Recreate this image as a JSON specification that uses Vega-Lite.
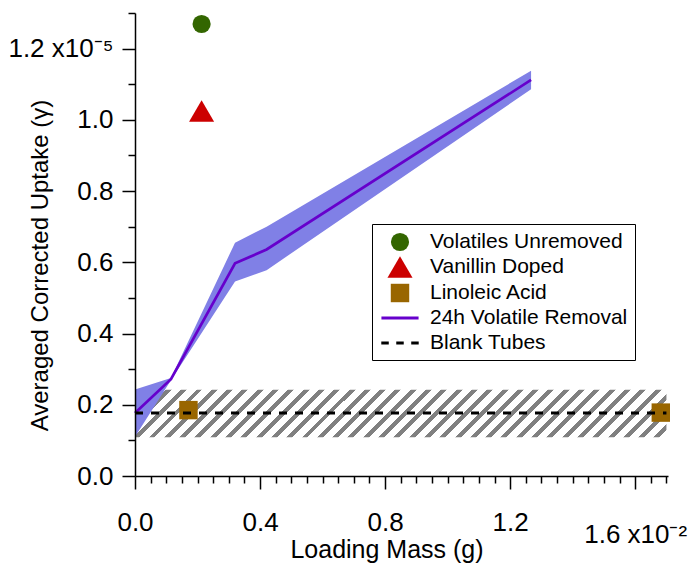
{
  "$schema": "https://vega.github.io/schema/vega-lite/v6.json",
  "width": 533,
  "height": 463,
  "autosize": {"type": "none"},
  "padding": {"left": 135, "top": 13, "right": 20, "bottom": 87},
  "config": {
    "view": {"stroke": null},
    "font": "Liberation Sans",
    "axis": {
      "grid": false,
      "domainColor": "#000",
      "tickColor": "#000",
      "labelColor": "#000",
      "titleColor": "#000",
      "domainWidth": 1.5,
      "tickWidth": 1.5,
      "labelFontSize": 26,
      "titleFontSize": 24,
      "titleFontWeight": "normal",
      "labelFont": "Liberation Sans",
      "titleFont": "Liberation Sans",
      "labelFlush": false,
      "labelOverlap": false,
      "labelBound": false
    },
    "legend": {
      "title": null, "orient": "none", "legendX": 237, "legendY": 211,
      "fillColor": "#ffffff", "strokeColor": "#000000",
      "padding": 7, "symbolOffset": 10, "labelOffset": 19, "rowPadding": 4,
      "symbolStrokeWidth": 3,
      "labelFontSize": 21, "labelColor": "#000", "labelFont": "Liberation Sans", "labelLimit": 400
    }
  },
  "datasets": {
    "blank": [{"x0": 0, "x1": 1.70, "lo": 0.109, "hi": 0.242, "y": 0.177}],
    "vol": [
      {"x": 0, "y": 0.177, "lo": 0.110, "hi": 0.243},
      {"x": 0.115, "y": 0.272, "lo": 0.269, "hi": 0.275},
      {"x": 0.32, "y": 0.597, "lo": 0.546, "hi": 0.655},
      {"x": 0.421, "y": 0.636, "lo": 0.578, "hi": 0.700},
      {"x": 1.267, "y": 1.112, "lo": 1.086, "hi": 1.138}
    ],
    "pts": [
      {"x": 0.213, "y": 1.269, "series": "Volatiles Unremoved"},
      {"x": 0.213, "y": 1.025, "series": "Vanillin Doped"},
      {"x": 0.171, "y": 0.185, "series": "Linoleic Acid"},
      {"x": 1.682, "y": 0.178, "series": "Linoleic Acid"}
    ]
  },
  "layer": [
    {
      "data": {"name": "blank"},
      "mark": {
        "type": "rect",
        "fill": {
          "gradient": "linear", "x1": 0, "y1": 0, "x2": 1.1, "y2": 0.0981,
          "stops": [
            {"offset": 0, "color": "#808080"}, {"offset": 0.0101, "color": "#808080"}, {"offset": 0.0101, "color": "#fff"}, {"offset": 0.026, "color": "#fff"},
            {"offset": 0.026, "color": "#808080"}, {"offset": 0.0361, "color": "#808080"}, {"offset": 0.0361, "color": "#fff"}, {"offset": 0.0519, "color": "#fff"},
            {"offset": 0.0519, "color": "#808080"}, {"offset": 0.062, "color": "#808080"}, {"offset": 0.062, "color": "#fff"}, {"offset": 0.0779, "color": "#fff"},
            {"offset": 0.0779, "color": "#808080"}, {"offset": 0.088, "color": "#808080"}, {"offset": 0.088, "color": "#fff"}, {"offset": 0.1039, "color": "#fff"},
            {"offset": 0.1039, "color": "#808080"}, {"offset": 0.114, "color": "#808080"}, {"offset": 0.114, "color": "#fff"}, {"offset": 0.1299, "color": "#fff"},
            {"offset": 0.1299, "color": "#808080"}, {"offset": 0.14, "color": "#808080"}, {"offset": 0.14, "color": "#fff"}, {"offset": 0.1558, "color": "#fff"},
            {"offset": 0.1558, "color": "#808080"}, {"offset": 0.1659, "color": "#808080"}, {"offset": 0.1659, "color": "#fff"}, {"offset": 0.1818, "color": "#fff"},
            {"offset": 0.1818, "color": "#808080"}, {"offset": 0.1919, "color": "#808080"}, {"offset": 0.1919, "color": "#fff"}, {"offset": 0.2078, "color": "#fff"},
            {"offset": 0.2078, "color": "#808080"}, {"offset": 0.2179, "color": "#808080"}, {"offset": 0.2179, "color": "#fff"}, {"offset": 0.2337, "color": "#fff"},
            {"offset": 0.2337, "color": "#808080"}, {"offset": 0.2438, "color": "#808080"}, {"offset": 0.2438, "color": "#fff"}, {"offset": 0.2597, "color": "#fff"},
            {"offset": 0.2597, "color": "#808080"}, {"offset": 0.2698, "color": "#808080"}, {"offset": 0.2698, "color": "#fff"}, {"offset": 0.2857, "color": "#fff"},
            {"offset": 0.2857, "color": "#808080"}, {"offset": 0.2958, "color": "#808080"}, {"offset": 0.2958, "color": "#fff"}, {"offset": 0.3116, "color": "#fff"},
            {"offset": 0.3116, "color": "#808080"}, {"offset": 0.3217, "color": "#808080"}, {"offset": 0.3217, "color": "#fff"}, {"offset": 0.3376, "color": "#fff"},
            {"offset": 0.3376, "color": "#808080"}, {"offset": 0.3477, "color": "#808080"}, {"offset": 0.3477, "color": "#fff"}, {"offset": 0.3636, "color": "#fff"},
            {"offset": 0.3636, "color": "#808080"}, {"offset": 0.3737, "color": "#808080"}, {"offset": 0.3737, "color": "#fff"}, {"offset": 0.3896, "color": "#fff"},
            {"offset": 0.3896, "color": "#808080"}, {"offset": 0.3997, "color": "#808080"}, {"offset": 0.3997, "color": "#fff"}, {"offset": 0.4155, "color": "#fff"},
            {"offset": 0.4155, "color": "#808080"}, {"offset": 0.4256, "color": "#808080"}, {"offset": 0.4256, "color": "#fff"}, {"offset": 0.4415, "color": "#fff"},
            {"offset": 0.4415, "color": "#808080"}, {"offset": 0.4516, "color": "#808080"}, {"offset": 0.4516, "color": "#fff"}, {"offset": 0.4675, "color": "#fff"},
            {"offset": 0.4675, "color": "#808080"}, {"offset": 0.4776, "color": "#808080"}, {"offset": 0.4776, "color": "#fff"}, {"offset": 0.4934, "color": "#fff"},
            {"offset": 0.4934, "color": "#808080"}, {"offset": 0.5035, "color": "#808080"}, {"offset": 0.5035, "color": "#fff"}, {"offset": 0.5194, "color": "#fff"},
            {"offset": 0.5194, "color": "#808080"}, {"offset": 0.5295, "color": "#808080"}, {"offset": 0.5295, "color": "#fff"}, {"offset": 0.5454, "color": "#fff"},
            {"offset": 0.5454, "color": "#808080"}, {"offset": 0.5555, "color": "#808080"}, {"offset": 0.5555, "color": "#fff"}, {"offset": 0.5713, "color": "#fff"},
            {"offset": 0.5713, "color": "#808080"}, {"offset": 0.5814, "color": "#808080"}, {"offset": 0.5814, "color": "#fff"}, {"offset": 0.5973, "color": "#fff"},
            {"offset": 0.5973, "color": "#808080"}, {"offset": 0.6074, "color": "#808080"}, {"offset": 0.6074, "color": "#fff"}, {"offset": 0.6233, "color": "#fff"},
            {"offset": 0.6233, "color": "#808080"}, {"offset": 0.6334, "color": "#808080"}, {"offset": 0.6334, "color": "#fff"}, {"offset": 0.6493, "color": "#fff"},
            {"offset": 0.6493, "color": "#808080"}, {"offset": 0.6594, "color": "#808080"}, {"offset": 0.6594, "color": "#fff"}, {"offset": 0.6752, "color": "#fff"},
            {"offset": 0.6752, "color": "#808080"}, {"offset": 0.6853, "color": "#808080"}, {"offset": 0.6853, "color": "#fff"}, {"offset": 0.7012, "color": "#fff"},
            {"offset": 0.7012, "color": "#808080"}, {"offset": 0.7113, "color": "#808080"}, {"offset": 0.7113, "color": "#fff"}, {"offset": 0.7272, "color": "#fff"},
            {"offset": 0.7272, "color": "#808080"}, {"offset": 0.7373, "color": "#808080"}, {"offset": 0.7373, "color": "#fff"}, {"offset": 0.7531, "color": "#fff"},
            {"offset": 0.7531, "color": "#808080"}, {"offset": 0.7632, "color": "#808080"}, {"offset": 0.7632, "color": "#fff"}, {"offset": 0.7791, "color": "#fff"},
            {"offset": 0.7791, "color": "#808080"}, {"offset": 0.7892, "color": "#808080"}, {"offset": 0.7892, "color": "#fff"}, {"offset": 0.8051, "color": "#fff"},
            {"offset": 0.8051, "color": "#808080"}, {"offset": 0.8152, "color": "#808080"}, {"offset": 0.8152, "color": "#fff"}, {"offset": 0.831, "color": "#fff"},
            {"offset": 0.831, "color": "#808080"}, {"offset": 0.8411, "color": "#808080"}, {"offset": 0.8411, "color": "#fff"}, {"offset": 0.857, "color": "#fff"},
            {"offset": 0.857, "color": "#808080"}, {"offset": 0.8671, "color": "#808080"}, {"offset": 0.8671, "color": "#fff"}, {"offset": 0.883, "color": "#fff"},
            {"offset": 0.883, "color": "#808080"}, {"offset": 0.8931, "color": "#808080"}, {"offset": 0.8931, "color": "#fff"}, {"offset": 0.909, "color": "#fff"},
            {"offset": 0.909, "color": "#808080"}, {"offset": 0.9191, "color": "#808080"}, {"offset": 0.9191, "color": "#fff"}, {"offset": 0.9349, "color": "#fff"},
            {"offset": 0.9349, "color": "#808080"}, {"offset": 0.945, "color": "#808080"}, {"offset": 0.945, "color": "#fff"}, {"offset": 0.9609, "color": "#fff"},
            {"offset": 0.9609, "color": "#808080"}, {"offset": 0.971, "color": "#808080"}, {"offset": 0.971, "color": "#fff"}, {"offset": 0.9869, "color": "#fff"},
            {"offset": 0.9869, "color": "#808080"}, {"offset": 0.997, "color": "#808080"}, {"offset": 0.997, "color": "#fff"}, {"offset": 1, "color": "#fff"}
          ]
        }
      },
      "encoding": {
        "x": {
          "field": "x0", "type": "quantitative",
          "scale": {"domain": [0, 1.705], "nice": false, "zero": false},
          "axis": {
            "orient": "bottom", "zindex": 1,
            "values": [0, 0.4, 0.8, 1.2, 1.6],
            "tickSize": 13,
            "labelExpr": "datum.value > 1.5 ? '1.6 x10⁻²' : format(datum.value, '.1f')",
            "labelPadding": {"condition": {"test": "datum.value > 1.5", "value": 32}, "value": 20},
            "title": "Loading Mass (g)",
            "titleFontSize": 25,
            "titleX": 251.5, "titleY": 81,
            "titleAlign": "center", "titleBaseline": "alphabetic", "titleAngle": 0
          }
        },
        "x2": {"field": "x1"},
        "y": {
          "field": "lo", "type": "quantitative",
          "scale": {"domain": [0, 1.3], "nice": false, "zero": false},
          "axis": {
            "orient": "left", "zindex": 1,
            "values": [0, 0.2, 0.4, 0.6, 0.8, 1.0, 1.2],
            "tickSize": 13,
            "labelPadding": 9,
            "labelExpr": "abs(datum.value - 1.2) < 0.01 ? '1.2 x10⁻⁵' : format(datum.value, '.1f')",
            "title": "Averaged Corrected Uptake (γ)",
            "titleX": -88, "titleY": 252,
            "titleAlign": "center", "titleBaseline": "alphabetic", "titleAngle": 270
          }
        },
        "y2": {"field": "hi"}
      }
    },
    {
      "data": {"name": "vol"},
      "mark": {"type": "area", "fill": "#8080e6", "stroke": null},
      "encoding": {
        "x": {"field": "x", "type": "quantitative", "scale": {"domain": [0, 1.705], "nice": false, "zero": false}, "axis": null},
        "y": {"field": "lo", "type": "quantitative", "scale": {"domain": [0, 1.3], "nice": false, "zero": false}, "axis": null},
        "y2": {"field": "hi"}
      }
    },
    {
      "data": {"name": "vol"},
      "mark": {"type": "line", "color": "#6600cc", "strokeWidth": 2.7},
      "encoding": {
        "x": {"field": "x", "type": "quantitative", "scale": {"domain": [0, 1.705], "nice": false, "zero": false}, "axis": null},
        "y": {"field": "y", "type": "quantitative", "scale": {"domain": [0, 1.3], "nice": false, "zero": false}, "axis": null}
      }
    },
    {
      "data": {"name": "pts"},
      "mark": {"type": "point", "filled": true, "opacity": 1},
      "encoding": {
        "x": {"field": "x", "type": "quantitative", "scale": {"domain": [0, 1.705], "nice": false, "zero": false}, "axis": null},
        "y": {"field": "y", "type": "quantitative", "scale": {"domain": [0, 1.3], "nice": false, "zero": false}, "axis": null},
        "fill": {
          "field": "series", "type": "nominal",
          "scale": {
            "domain": ["Volatiles Unremoved", "Vanillin Doped", "Linoleic Acid", "24h Volatile Removal", "Blank Tubes"],
            "range": ["#336600", "#cc0000", "#996600", null, null]
          }
        },
        "stroke": {
          "field": "series", "type": "nominal",
          "scale": {
            "domain": ["Volatiles Unremoved", "Vanillin Doped", "Linoleic Acid", "24h Volatile Removal", "Blank Tubes"],
            "range": [null, null, null, "#6600cc", "#000000"]
          }
        },
        "shape": {
          "field": "series", "type": "nominal",
          "scale": {
            "domain": ["Volatiles Unremoved", "Vanillin Doped", "Linoleic Acid", "24h Volatile Removal", "Blank Tubes"],
            "range": ["circle", "M0,-1.18L1.37,1.18L-1.37,1.18Z", "square", "M-2,0H2", "M-2,0H-1.2M-0.4,0H0.4M1.2,0H2"]
          }
        },
        "size": {
          "field": "series", "type": "nominal",
          "scale": {
            "domain": ["Volatiles Unremoved", "Vanillin Doped", "Linoleic Acid", "24h Volatile Removal", "Blank Tubes"],
            "range": [330, 350, 430, 100, 100]
          }
        }
      }
    },
    {
      "data": {"name": "blank"},
      "mark": {"type": "rule", "color": "#000", "strokeWidth": 3, "strokeDash": [8, 8], "strokeCap": "butt"},
      "encoding": {
        "x": {
          "field": "x0", "type": "quantitative",
          "scale": {"domain": [0, 1.705], "nice": false, "zero": false},
          "axis": {
            "orient": "bottom", "domain": false, "labels": false, "title": null, "tickSize": 7,
            "values": [0.05, 0.1, 0.15, 0.2, 0.25, 0.3, 0.35, 0.45, 0.5, 0.55, 0.6, 0.65, 0.7, 0.75, 0.85, 0.9, 0.95, 1.0, 1.05, 1.1, 1.15, 1.25, 1.3, 1.35, 1.4, 1.45, 1.5, 1.55, 1.65, 1.7]
          }
        },
        "x2": {"field": "x1"},
        "y": {
          "field": "y", "type": "quantitative",
          "scale": {"domain": [0, 1.3], "nice": false, "zero": false},
          "axis": {
            "orient": "left", "domain": false, "labels": false, "title": null, "tickSize": 7,
            "values": [0.1, 0.3, 0.5, 0.7, 0.9, 1.1, 1.3]
          }
        }
      }
    }
  ],
  "resolve": {"axis": {"x": "independent", "y": "independent"}}
}
